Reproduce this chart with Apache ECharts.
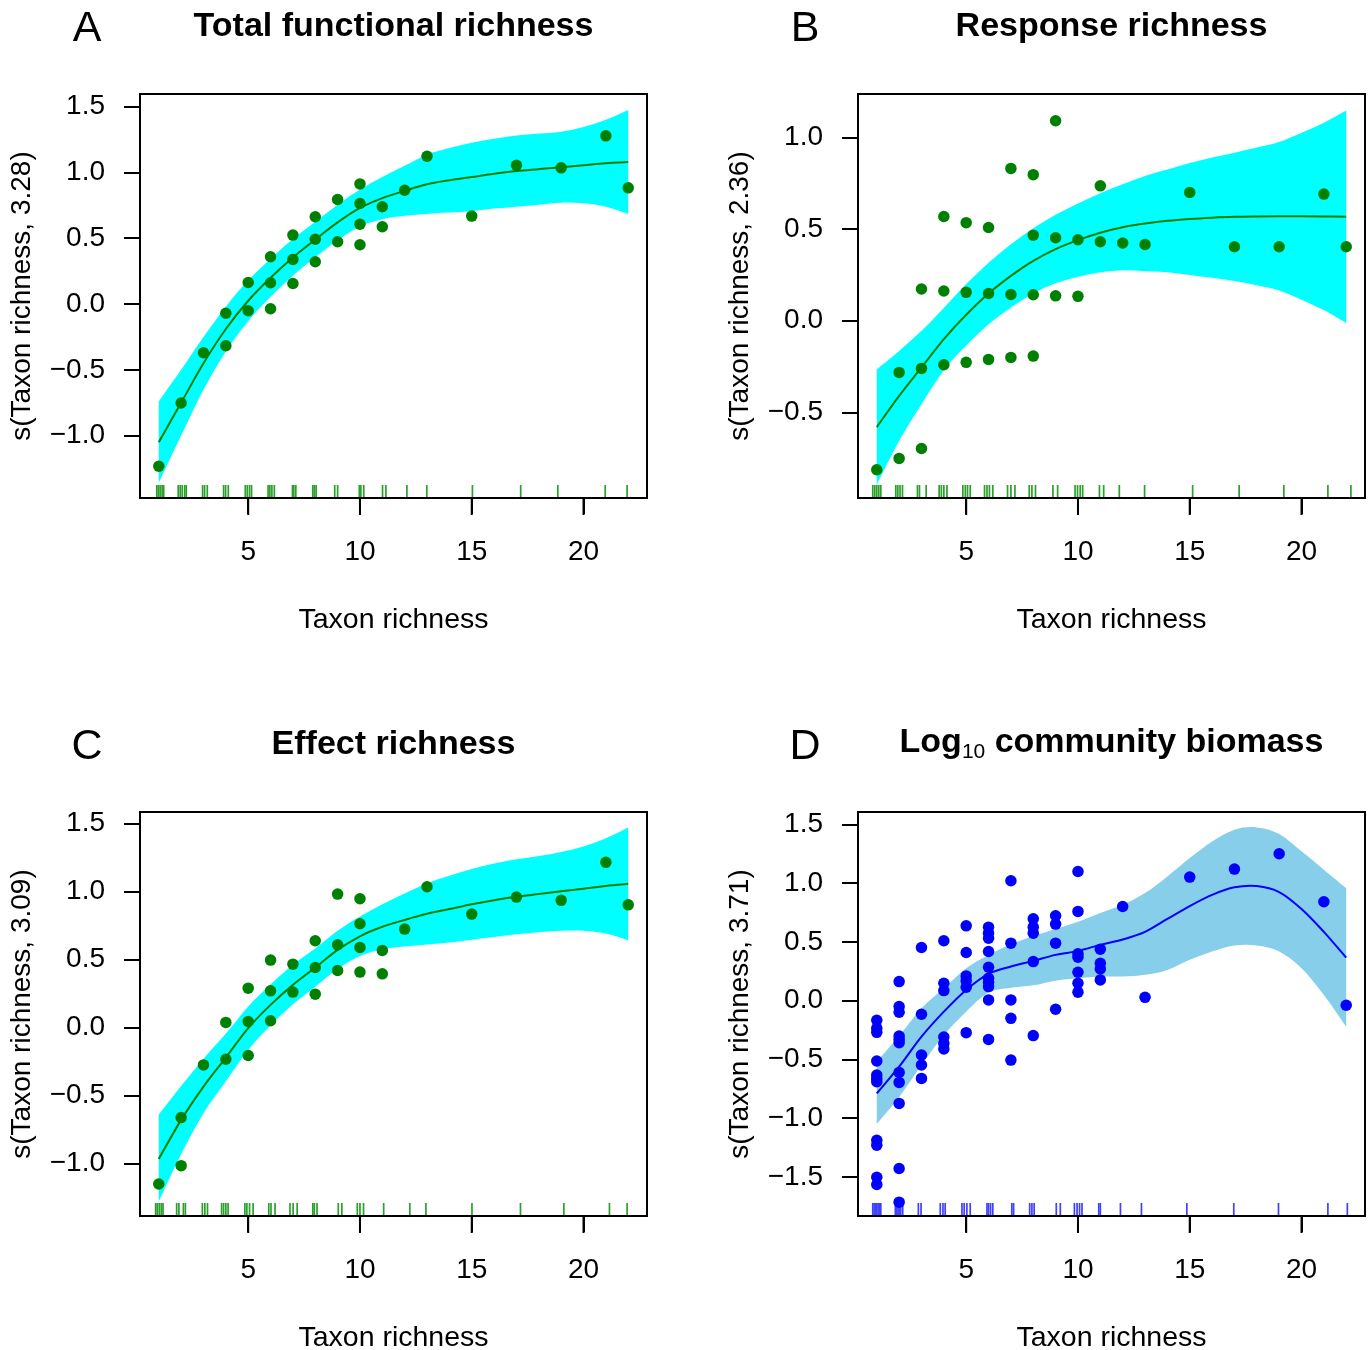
<!DOCTYPE html>
<html>
<head>
<meta charset="utf-8">
<script src="https://cdn.jsdelivr.net/npm/echarts@6/dist/echarts.min.js"></script>
<style>
  html, body { margin: 0; padding: 0; background: #fff; }
  #chart { width: 1372px; height: 1350px; }
</style>
</head>
<body>
<div id="chart"></div>
<script>
// ---------- DATA ----------
const curveX = [1,2,3,4,5,6,7,8,9,10,11,12,13,14,15,16,17,18,19,20,21,22];
const xTicks = [5,10,15,20];

// Panel A: Total functional richness
const pointsAx = [1,2,3,4,4,5,5,6,6,6,7,7,7,8,8,8,9,9,10,10,10,10,11,11,12,13,15,17,19,21,22];
const pointsAy = [-1.233,-0.752,-0.37,-0.07,-0.317,0.164,-0.051,0.359,0.162,-0.036,0.524,0.339,0.156,0.663,0.493,0.321,0.794,0.473,0.913,0.764,0.607,0.450,0.739,0.587,0.865,1.123,0.668,1.055,1.035,1.278,0.883];
const fitA   = [-1.05,-0.75,-0.45,-0.19,0.025,0.20,0.354,0.49,0.62,0.73,0.805,0.86,0.91,0.94,0.965,0.99,1.01,1.025,1.04,1.055,1.07,1.08];
const upperA = [-0.74,-0.50,-0.25,-0.02,0.18,0.345,0.495,0.625,0.755,0.87,0.965,1.05,1.135,1.185,1.225,1.255,1.28,1.295,1.31,1.345,1.40,1.475];
const lowerA = [-1.36,-1.00,-0.65,-0.36,-0.13,0.055,0.215,0.355,0.485,0.59,0.645,0.67,0.685,0.695,0.705,0.725,0.74,0.755,0.77,0.765,0.74,0.685];
const rugA = [0.91,0.98,1.06,1.15,1.22,1.87,1.96,2.05,2.16,2.23,2.96,3.05,3.17,3.9,3.99,4.11,4.87,4.96,5.06,5.15,5.89,5.97,6.06,6.17,6.98,7.04,7.13,7.89,7.96,8.04,8.87,9.0,9.97,10.04,10.17,11.01,11.16,12.1,12.99,15.03,17.19,18.85,20.97,21.95];
const yTicksA = [-1.0,-0.5,0.0,0.5,1.0,1.5];

// Panel B: Response richness
const pointsBx = [1,2,2,3,3,3,4,4,4,5,5,5,6,6,6,7,7,7,8,8,8,8,9,9,9,10,10,11,11,12,13,15,17,19,21,22];
const pointsBy = [-0.813,-0.282,-0.751,0.173,-0.26,-0.697,0.569,0.162,-0.24,0.535,0.155,-0.227,0.509,0.149,-0.211,0.831,0.143,-0.2,0.797,0.467,0.142,-0.193,1.091,0.453,0.136,0.442,0.133,0.736,0.431,0.424,0.416,0.7,0.404,0.404,0.691,0.404];
const fitB   = [-0.58,-0.41,-0.255,-0.10,0.033,0.149,0.245,0.327,0.391,0.44,0.48,0.51,0.53,0.545,0.555,0.562,0.567,0.569,0.57,0.57,0.569,0.567];
const upperB = [-0.265,-0.165,-0.055,0.07,0.20,0.317,0.418,0.505,0.578,0.64,0.696,0.745,0.79,0.825,0.86,0.89,0.917,0.945,0.975,1.025,1.08,1.147];
const lowerB = [-0.895,-0.655,-0.455,-0.27,-0.135,-0.019,0.072,0.149,0.204,0.24,0.264,0.275,0.27,0.265,0.25,0.234,0.217,0.193,0.165,0.115,0.058,-0.013];
const rugB = [0.82,0.91,1.0,1.09,1.18,1.85,1.94,2.04,2.15,2.82,2.91,3.21,3.79,3.89,4.0,4.14,4.85,4.96,5.06,5.18,5.82,5.93,6.04,6.19,6.85,7.0,7.18,7.82,7.94,8.1,8.88,9.09,9.87,9.98,10.1,10.21,10.96,11.15,11.85,12.98,15.13,17.21,19.21,21.18,22.21];
const yTicksB = [-0.5,0.0,0.5,1.0];

// Panel C: Effect richness
const pointsCx = [1,2,2,3,4,4,5,5,5,6,6,6,7,7,8,8,8,9,9,9,10,10,10,10,11,11,12,13,15,17,19,21,22];
const pointsCy = [-1.15,-0.662,-1.015,-0.275,0.037,-0.233,0.289,0.044,-0.206,0.495,0.269,0.049,0.465,0.26,0.637,0.441,0.245,0.98,0.607,0.419,0.946,0.762,0.588,0.407,0.566,0.394,0.723,1.034,0.833,0.958,0.934,1.213,0.901];
const fitC   = [-0.966,-0.679,-0.434,-0.221,-0.005,0.166,0.313,0.44,0.57,0.67,0.74,0.79,0.835,0.87,0.905,0.935,0.96,0.98,1.0,1.02,1.04,1.055];
const upperC = [-0.64,-0.43,-0.23,-0.045,0.155,0.315,0.46,0.58,0.71,0.815,0.905,0.985,1.06,1.115,1.165,1.205,1.235,1.26,1.29,1.33,1.39,1.47];
const lowerC = [-1.28,-0.93,-0.63,-0.395,-0.165,0.015,0.17,0.30,0.43,0.525,0.575,0.595,0.61,0.625,0.645,0.665,0.685,0.70,0.71,0.71,0.69,0.64];
const rugC = [0.86,0.93,1.02,1.11,1.19,1.8,1.9,2.1,2.19,2.95,3.06,3.18,3.81,3.9,4.0,4.1,4.85,4.94,5.06,5.22,5.92,6.02,6.2,6.87,7.01,7.19,7.89,7.96,8.08,9.03,9.19,9.88,10.0,10.16,11.06,12.23,12.95,15.01,17.18,19.12,21.16,21.95];
const yTicksC = [-1.0,-0.5,0.0,0.5,1.0,1.5];

// Panel D: Log10 community biomass
const pointsDx = [1,1,1,1,1,1,1,1,1,1,1,
  2,2,2,2,2,2,2,2,2,2,2,
  3,3,3,3,3,
  4,4,4,4,4,4,
  5,5,5,5,5,5,
  6,6,6,6,6,6,6,6,6,6,
  7,7,7,7,7,
  8,8,8,8,8,
  9,9,9,9,
  10,10,10,10,10,10,10,
  11,11,11,11,
  12,13,15,17,19,21,22];
const pointsDy = [-0.168,-0.236,-0.27,-0.514,-0.634,-0.662,-0.69,-1.188,-1.23,-1.503,-1.565,
  0.162,-0.051,-0.099,-0.301,-0.33,-0.358,-0.611,-0.696,-0.875,-1.429,-1.715,
  0.452,-0.116,-0.463,-0.548,-0.662,
  0.509,0.148,0.085,-0.31,-0.364,-0.412,
  0.636,0.409,0.21,0.17,0.114,-0.273,
  0.625,0.574,0.531,0.418,0.284,0.19,0.156,0.119,0.006,-0.33,
  1.02,0.489,0.006,-0.151,-0.506,
  0.696,0.625,0.574,0.332,-0.298,
  0.722,0.651,0.489,-0.074,
  1.099,0.759,0.398,0.369,0.241,0.148,0.071,
  0.438,0.318,0.27,0.176,
  0.801,0.028,1.051,1.119,1.25,0.841,-0.04];
const fitD   = [-0.79,-0.5625,-0.307,-0.094,0.091,0.227,0.29,0.338,0.389,0.423,0.474,0.52,0.585,0.695,0.805,0.9,0.964,0.975,0.924,0.78,0.585,0.365];
const upperD = [-0.52,-0.30,-0.065,0.105,0.276,0.389,0.48,0.55,0.61,0.67,0.745,0.815,0.915,1.057,1.213,1.355,1.455,1.474,1.418,1.27,1.114,0.957];
const lowerD = [-1.05,-0.82,-0.548,-0.293,-0.094,0.068,0.11,0.13,0.17,0.19,0.205,0.205,0.219,0.261,0.347,0.418,0.469,0.469,0.418,0.276,0.048,-0.222];
const rugD = [0.82,0.88,0.94,1.0,1.06,1.12,1.18,1.83,1.89,1.95,2.01,2.07,2.16,2.86,2.98,3.84,3.96,4.06,4.81,4.91,5.03,5.18,5.93,6.0,6.09,6.19,7.04,7.12,7.84,7.94,8.04,9.03,9.21,9.84,9.96,10.07,10.18,10.93,11.0,11.9,12.84,14.87,16.97,18.97,21.18,22.05];
const yTicksD = [-1.5,-1.0,-0.5,0.0,0.5,1.0,1.5];

const titles = ['Total functional richness','Response richness','Effect richness','Log10 community biomass'];
const letters = ['A','B','C','D'];
const yNames = ['s(Taxon richness, 3.28)','s(Taxon richness, 2.36)','s(Taxon richness, 3.09)','s(Taxon richness, 3.71)'];
const xName = 'Taxon richness';

// ---------- LAYOUT / STYLE ----------
const FONT = '"Liberation Sans", Arial, Helvetica, sans-serif';
const GW = 507, GH = 404;
const X_MIN = 0.16, X_MAX = 22.84;
const panels = [
  {left:140, top:94,  ymin:-1.474, ymax:1.596, px:pointsAx, py:pointsAy, fit:fitA, up:upperA, lo:lowerA, rug:rugA, yt:yTicksA, col:'#008000', band:'#00ffff', rugCol:'#2ca02c'},
  {left:858, top:94,  ymin:-0.967, ymax:1.237, px:pointsBx, py:pointsBy, fit:fitB, up:upperB, lo:lowerB, rug:rugB, yt:yTicksB, col:'#008000', band:'#00ffff', rugCol:'#2ca02c'},
  {left:140, top:812, ymin:-1.385, ymax:1.583, px:pointsCx, py:pointsCy, fit:fitC, up:upperC, lo:lowerC, rug:rugC, yt:yTicksC, col:'#008000', band:'#00ffff', rugCol:'#2ca02c'},
  {left:858, top:812, ymin:-1.833, ymax:1.605, px:pointsDx, py:pointsDy, fit:fitD, up:upperD, lo:lowerD, rug:rugD, yt:yTicksD, col:'#0000ff', band:'#87ceeb', rugCol:'#4040ff'}
];

const fmtY = v => (v < 0 ? '\u2212' : '') + Math.abs(v).toFixed(1);

// Catmull-Rom spline through pixel points -> SVG path commands (rendering only)
function splinePath(pts, moveFirst) {
  let d = (moveFirst ? 'M' : 'L') + pts[0][0] + ' ' + pts[0][1];
  for (let i = 0; i < pts.length - 1; i++) {
    const p0 = pts[Math.max(i - 1, 0)], p1 = pts[i], p2 = pts[i + 1], p3 = pts[Math.min(i + 2, pts.length - 1)];
    const c1x = p1[0] + (p2[0] - p0[0]) / 6, c1y = p1[1] + (p2[1] - p0[1]) / 6;
    const c2x = p2[0] - (p3[0] - p1[0]) / 6, c2y = p2[1] - (p3[1] - p1[1]) / 6;
    d += ' C' + c1x + ' ' + c1y + ' ' + c2x + ' ' + c2y + ' ' + p2[0] + ' ' + p2[1];
  }
  return d;
}

const grids = [], xAxes = [], yAxes = [], series = [], graphics = [];

panels.forEach((p, i) => {
  grids.push({left:p.left, top:p.top, width:GW, height:GH, show:true, borderColor:'#000', borderWidth:2, backgroundColor:'transparent', containLabel:false});
  xAxes.push({
    gridIndex:i, type:'value', position:'bottom', min:X_MIN, max:X_MAX,
    axisLine:{show:true, onZero:false, lineStyle:{color:'#000', width:2}}, splitLine:{show:false},
    axisTick:{show:true, inside:false, length:16, customValues:xTicks.slice(), lineStyle:{color:'#000', width:2}},
    axisLabel:{show:true, customValues:xTicks.slice(), margin:40, fontSize:28, fontFamily:FONT, color:'#000'}
  });
  yAxes.push({
    gridIndex:i, type:'value', position:'left', min:p.ymin, max:p.ymax,
    axisLine:{show:true, onZero:false, lineStyle:{color:'#000', width:2}}, splitLine:{show:false},
    axisTick:{show:true, inside:false, length:16, customValues:p.yt.slice(), lineStyle:{color:'#000', width:2}},
    axisLabel:{show:true, customValues:p.yt.slice(), margin:35, fontSize:28, fontFamily:FONT, color:'#000', formatter:fmtY}
  });
  // confidence band
  series.push({
    type:'custom', xAxisIndex:i, yAxisIndex:i, silent:true, z:1, clip:true,
    data: curveX.map((x, k) => [x, p.lo[k], p.up[k]]),
    encode:{x:0, y:[1, 2]},
    renderItem: (params, api) => {
      if (params.dataIndex !== 0) return null;
      const up = curveX.map((x, k) => api.coord([x, p.up[k]]));
      const lo = curveX.map((x, k) => api.coord([x, p.lo[k]])).reverse();
      const d = splinePath(up, true) + ' ' + splinePath(lo, false) + ' Z';
      return {type:'path', shape:{pathData:d}, style:{fill:p.band, stroke:null}};
    }
  });
  // fitted smooth
  series.push({
    type:'custom', xAxisIndex:i, yAxisIndex:i, silent:true, z:3, clip:true,
    data: curveX.map((x, k) => [x, p.fit[k]]),
    encode:{x:0, y:1},
    renderItem: (params, api) => {
      if (params.dataIndex !== 0) return null;
      const pts = curveX.map((x, k) => api.coord([x, p.fit[k]]));
      return {type:'path', shape:{pathData:splinePath(pts, true)}, style:{fill:null, stroke:p.col, lineWidth:2}};
    }
  });
  series.push({
    type:'scatter', xAxisIndex:i, yAxisIndex:i, silent:true, z:4,
    data: p.px.map((x, k) => [x, p.py[k]]),
    symbol:'circle', symbolSize:11.5, itemStyle:{color:p.col, opacity:1}
  });
  // rug
  series.push({
    type:'custom', xAxisIndex:i, yAxisIndex:i, silent:true, z:2,
    data: p.rug.map(x => [x, p.ymin]),
    encode:{x:0, y:1},
    renderItem: (params, api) => {
      const c = api.coord([api.value(0), api.value(1)]);
      return {type:'line', shape:{x1:c[0], y1:c[1] - 1, x2:c[0], y2:c[1] - 13}, style:{stroke:p.rugCol, lineWidth:1.7}};
    }
  });
  // outward x-axis tick marks as rect symbols hanging below the frame
  series.push({
    type:'scatter', xAxisIndex:i, yAxisIndex:i, silent:true, z:20, clip:false,
    data: xTicks.map(x => [x, p.ymin]),
    symbol:'rect', symbolSize:[2, 17], symbolOffset:[0, 8.5],
    itemStyle:{color:'#000', opacity:1}
  });

  // texts
  const cx = p.left + GW / 2;
  graphics.push({type:'text', x:p.left - 53, y:p.top - 65, style:{text:letters[i], fontSize:43, fontFamily:FONT, fontWeight:'normal', fill:'#000', align:'center', verticalAlign:'middle'}});
  if (i === 3) {
    graphics.push({type:'text', x:cx, y:p.top - 69, style:{
      text:'{b|Log}{s|10}{b| community biomass}', align:'center', verticalAlign:'middle', fill:'#000',
      rich:{
        b:{fontSize:34, fontWeight:'bold', fontFamily:FONT, lineHeight:40, fill:'#000'},
        s:{fontSize:21, fontWeight:'normal', fontFamily:FONT, lineHeight:22, verticalAlign:'bottom', fill:'#000'}
      }}});
  } else {
    graphics.push({type:'text', x:cx, y:p.top - 67, style:{text:titles[i], fontSize:34, fontFamily:FONT, fontWeight:'bold', fill:'#000', align:'center', verticalAlign:'middle'}});
  }
  graphics.push({type:'text', x:cx, y:p.top + 526, style:{text:xName, fontSize:28.5, fontFamily:FONT, fill:'#000', align:'center', verticalAlign:'middle'}});
  graphics.push({type:'text', x:p.left - 118, y:p.top + GH / 2, rotation:Math.PI / 2, style:{text:yNames[i], fontSize:28, fontFamily:FONT, fill:'#000', align:'center', verticalAlign:'middle'}});
});

const chart = echarts.init(document.getElementById('chart'), null, {renderer:'canvas'});
chart.setOption({
  animation:false,
  backgroundColor:'#fff',
  grid:grids, xAxis:xAxes, yAxis:yAxes, series:series, graphic:graphics
});
</script>
</body>
</html>
